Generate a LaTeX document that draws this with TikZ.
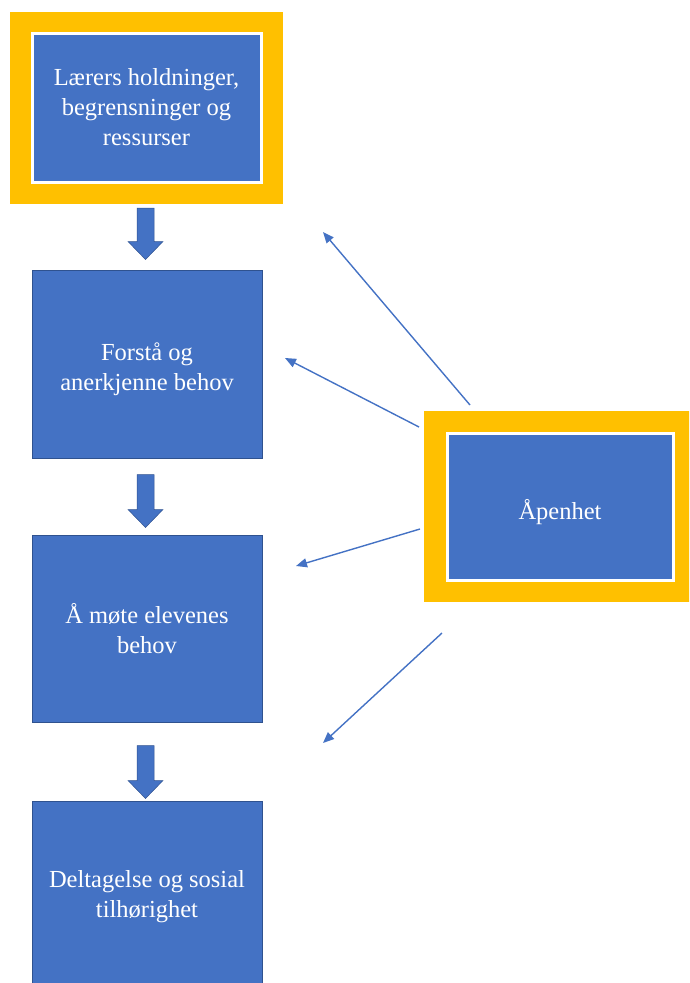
\documentclass[tikz,border=0pt]{standalone}
\usepackage{fontspec}
\setmainfont{Liberation Serif}
\usetikzlibrary{arrows.meta,calc}
\definecolor{obl}{HTML}{4472C4}
\definecolor{obldark}{HTML}{2F528F}
\definecolor{oyel}{HTML}{FFC000}
\newcommand\blockarr[2]{%
  \path let \p1=#1, \p2=#2 in
    [fill=obl,draw=obldark,line width=0.5pt]
    (\x1-8.5pt,\y1) -- (\x1+8.5pt,\y1) -- (\x1+8.5pt,\y2+18pt) -- (\x1+17.5pt,\y2+18pt)
    -- (\x1,\y2) -- (\x1-17.5pt,\y2+18pt) -- (\x1-8.5pt,\y2+18pt) -- cycle;}
\begin{document}
\begin{tikzpicture}[x=1pt,y=1pt,
  txt/.style={text=white,align=center,font=\fontsize{24.5}{30}\selectfont},
  yframe/.style={fill=oyel,draw=none,inner sep=0pt},
  inbox/.style={txt,fill=obl,draw=white,line width=3pt,inner sep=0pt},
  bluebox/.style={txt,fill=obl,draw=obldark,line width=1pt,inner sep=0pt,minimum width=230,minimum height=188},
  thinarrow/.style={draw=obl,line width=1.4pt,-{Triangle[width=9pt,length=11pt]}}]
\clip (0,0) rectangle (689,-983);
\useasboundingbox (0,0) rectangle (689,-983);
% top box
\node[yframe,minimum width=273,minimum height=192] (topF) at (146.5,-108) {};
\node[inbox,minimum width=229,minimum height=149] (top) at (146.5,-107.5) {Lærers holdninger,\\begrensninger og\\ressurser};
% column boxes
\node[bluebox] (b2) at (147,-364) {};
\node[txt] (b2t) at ($(b2.center)+(0,-5)$) {Forstå og\\anerkjenne behov};
\node[bluebox,minimum height=187] (b3) at (147,-628.5) {Å møte elevenes\\behov};
\node[bluebox] (b4) at (147,-895) {};
\node[txt] (b4t) at ($(b4.center)+(0,-2)$) {Deltagelse og sosial\\tilhørighet};
% Åpenhet
\node[yframe,minimum width=273,minimum height=191] (apF) at (560.5,-506.5) {};
\node[inbox,minimum width=226,minimum height=147] (ap) at (560,-506.5) {};
\node[txt] (apt) at ($(ap.center)+(0,-6)$) {Åpenhet};
% block arrows
\blockarr{($(topF.south)+(-1,-4)$)}{($(b2.north)+(-1.5,10)$)}
\blockarr{($(b2.south)+(-1.5,-16)$)}{($(b3.north)+(-1.5,7)$)}
\blockarr{($(b3.south)+(-1.5,-23)$)}{($(b4.north)+(-1.5,2)$)}
% thin arrows
\coordinate (s1) at (470,-405); \coordinate (e1) at (323,-232);
\coordinate (s2) at (419,-427); \coordinate (e2) at (285,-358);
\coordinate (s3) at (420,-529); \coordinate (e3) at (296,-566);
\coordinate (s4) at (442,-633); \coordinate (e4) at (323,-743);
\draw[thinarrow] (s1) -- (e1);
\draw[thinarrow] (s2) -- (e2);
\draw[thinarrow] (s3) -- (e3);
\draw[thinarrow] (s4) -- (e4);
\end{tikzpicture}
\end{document}
